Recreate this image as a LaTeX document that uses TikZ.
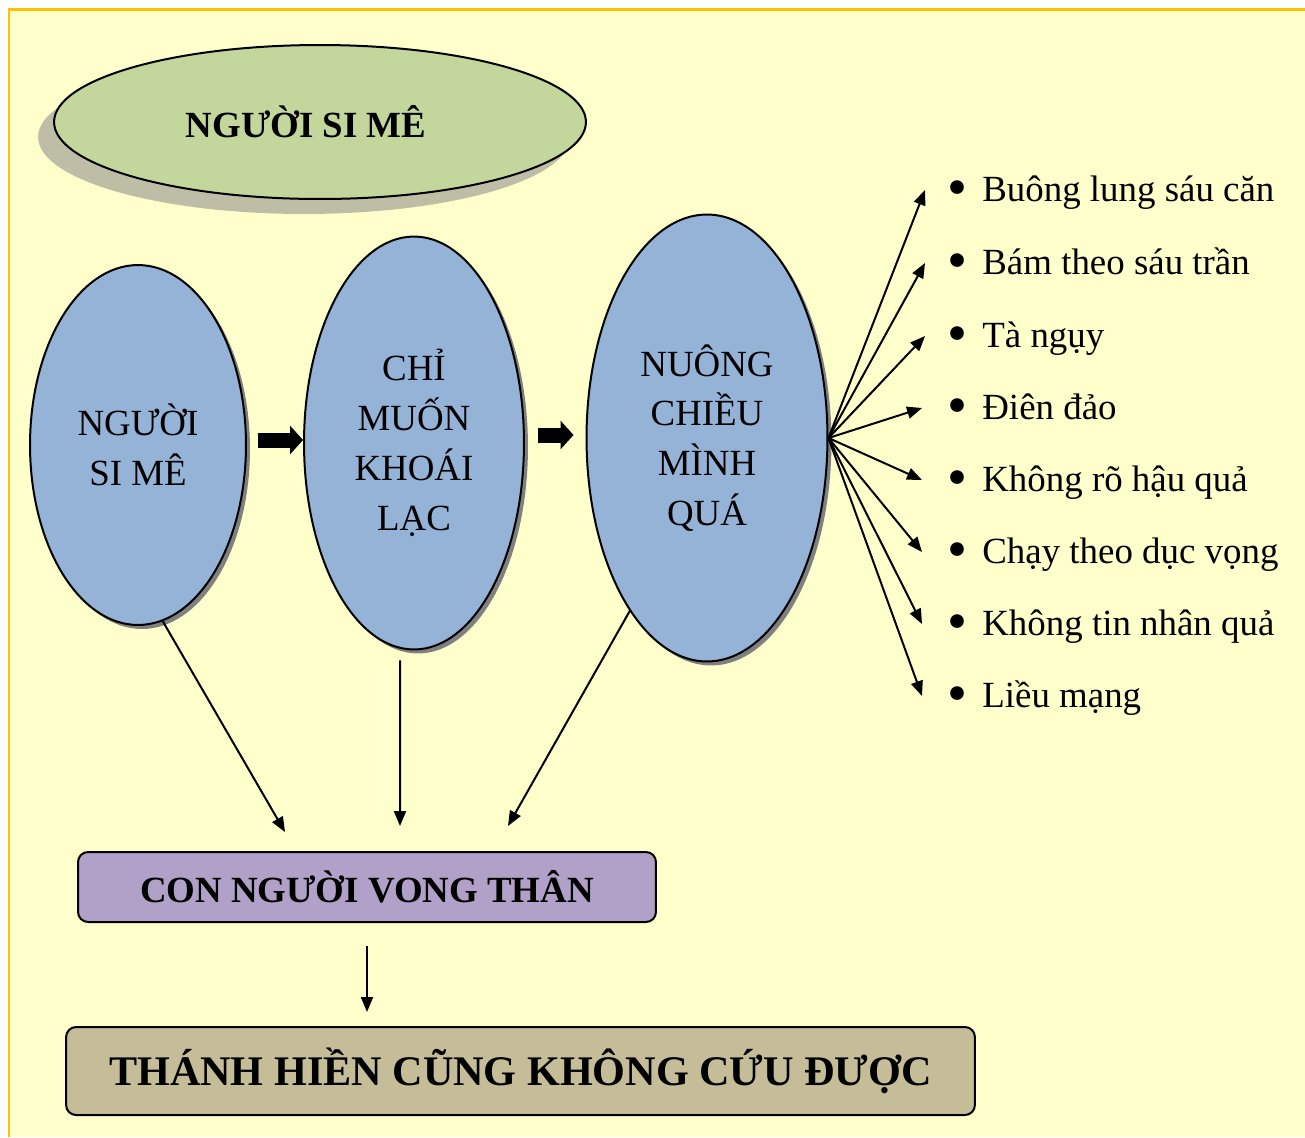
\documentclass[tikz,border=0pt]{standalone}
\usepackage{fontspec}
\setmainfont{Liberation Serif}
\usepackage{tikz}
\usetikzlibrary{arrows.meta, positioning, shapes.geometric, shadows, calc}
\definecolor{pageyellow}{RGB}{255, 255, 204}
\definecolor{frameyellow}{RGB}{255, 192, 0}
\definecolor{titlegreen}{RGB}{195, 214, 155}
\definecolor{titleshadow}{RGB}{190, 190, 166}
\definecolor{stageblue}{RGB}{149, 179, 215}
\definecolor{lostpurple}{RGB}{177, 160, 199}
\definecolor{endtan}{RGB}{196, 189, 151}
\newcommand{\dotmark}{\makebox[0.7cm][l]{\raisebox{-0.3ex}{\scalebox{1.55}{•}}}}

\begin{document}
\begin{tikzpicture}[x=0.02cm, y=-0.02cm,
    title/.style={ellipse, draw=black, line width=0.04cm, fill=titlegreen, minimum width=10.64cm, minimum height=3.08cm, inner sep=0pt, font=\fontsize{21}{25}\selectfont\bfseries,
        drop shadow={shadow xshift=-0.32cm, shadow yshift=-0.3cm, fill=titleshadow, opacity=1}},
    stage/.style={ellipse, draw=black, line width=0.04cm, fill=stageblue, inner sep=0pt, align=center, font=\fontsize{21}{28.4}\selectfont,
        drop shadow={shadow xshift=0.08cm, shadow yshift=-0.08cm, fill=black!50, opacity=1}},
    item/.style={anchor=west, inner sep=0pt, text height=0.44cm, text depth=0pt, font=\fontsize{21}{25}\selectfont},
    result/.style={draw=black, line width=0.04cm, rounded corners=0.2cm, inner sep=0pt, font=\bfseries},
    arr/.style={-{Triangle[length=0.3cm, width=0.24cm]}, line width=0.04cm},
    blockarr/.style={-{Triangle[length=0.26cm, width=0.56cm]}, line width=0.3cm}
]
    % Page
    \useasboundingbox (0,0) rectangle (1305,1137);
    \fill[white] (0,0) rectangle (1305,1137);
    \fill[pageyellow] (9,9) rectangle (1305,1137);
    \draw[frameyellow, line width=0.06cm] (9,1137) -- (9,9) -- (1305,9);

    % Title
    \node[title] (ttl) at (320,122) {NGƯỜI SI MÊ\kern0.56cm};

    % Stages
    \node[stage, minimum width=4.32cm, minimum height=7.2cm] (e1) at (138,445) {NGƯỜI\\SI MÊ};
    \node[stage, minimum width=4.4cm, minimum height=8.26cm] (e2) at (414,443) {CHỈ\\MUỐN\\KHOÁI\\LẠC};
    \node[stage, minimum width=4.82cm, minimum height=8.94cm] (e3) at (707,438) {NUÔNG\\CHIỀU\\MÌNH\\QUÁ};

    \draw[blockarr] ([xshift=0.22cm]e1.east |- 0,440) -- (e2.west |- 0,440);
    \draw[blockarr, shorten >=0.24cm] ([xshift=0.26cm]e2.east |- 0,435) -- (e3.west |- 0,435);

    % Consequences
    \node[item] (i1) at (947,190) {\dotmark Buông lung sáu căn};
    \node[item] (i2) at (947,263) {\dotmark Bám theo sáu trần};
    \node[item] (i3) at (947,336) {\dotmark Tà ngụy};
    \node[item] (i4) at (947,408) {\dotmark Điên đảo};
    \node[item] (i5) at (947,480) {\dotmark Không rõ hậu quả};
    \node[item] (i6) at (947,552) {\dotmark Chạy theo dục vọng};
    \node[item] (i7) at (947,624) {\dotmark Không tin nhân quả};
    \node[item] (i8) at (947,696) {\dotmark Liều mạng};

    \draw[arr] (e3.east) -- ([xshift=-0.44cm]i1.west);
    \draw[arr] (e3.east) -- ([xshift=-0.44cm]i2.west);
    \draw[arr] (e3.east) -- ([xshift=-0.44cm]i3.west);
    \draw[arr] (e3.east) -- ([xshift=-0.5cm]i4.west);
    \draw[arr] (e3.east) -- ([xshift=-0.5cm]i5.west);
    \draw[arr] (e3.east) -- ([xshift=-0.5cm]i6.west);
    \draw[arr] (e3.east) -- ([xshift=-0.5cm]i7.west);
    \draw[arr] (e3.east) -- ([xshift=-0.5cm]i8.west);

    % Results
    \node[result, fill=lostpurple, minimum width=11.56cm, minimum height=1.4cm, font=\fontsize{21}{25}\selectfont\bfseries] (cv) at (367,887) {CON NGƯỜI VONG THÂN};
    \node[result, fill=endtan, minimum width=18.18cm, minimum height=1.76cm, font=\fontsize{24}{28}\selectfont\bfseries] (th) at (520.5,1071) {THÁNH HIỀN CŨNG KHÔNG CỨU ĐƯỢC};

    \coordinate (t1) at (285,832);
    \coordinate (t2) at (400,826);
    \coordinate (t3) at (508,826);
    \draw[arr] (e1.-82) -- (t1);
    \draw[arr] ([xshift=-0.28cm, yshift=-0.2cm]e2.south) -- (t2);
    \draw[arr] ([shift={(0.04cm,-0.06cm)}]e3.-115) -- (t3);

    \draw[arr] ([yshift=-0.46cm]cv.south) -- ([yshift=0.28cm]cv.south |- th.north);
\end{tikzpicture}
\end{document}
